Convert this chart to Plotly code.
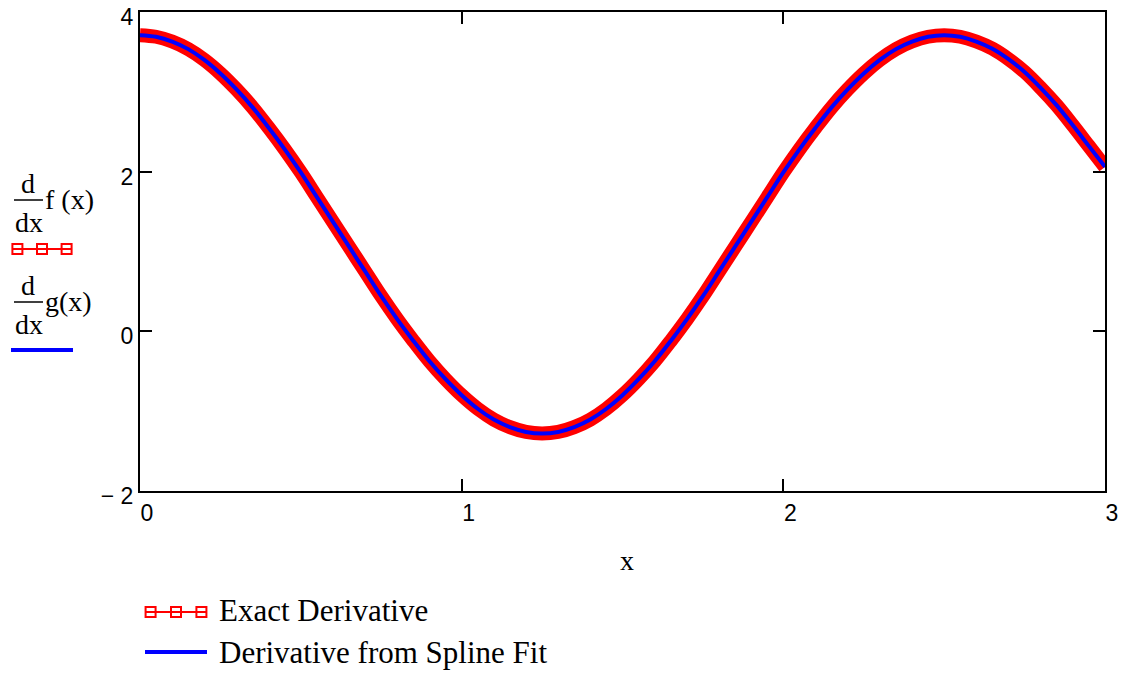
import plotly.graph_objects as go

# ── data ────────────────────────────────────────────────
X_VALS = [round(0.05 * i, 2) for i in range(61)]
EXACT = [3.71, 3.69, 3.63, 3.535, 3.40, 3.23, 3.03, 2.805, 2.55, 2.28,
         1.99, 1.68, 1.37, 1.06, 0.75, 0.44, 0.15, -0.12, -0.375, -0.60,
         -0.80, -0.97, -1.105, -1.20, -1.26, -1.28, -1.26, -1.20, -1.105, -0.97,
         -0.80, -0.60, -0.375, -0.12, 0.15, 0.44, 0.75, 1.06, 1.37, 1.68,
         1.99, 2.28, 2.55, 2.805, 3.03, 3.23, 3.40, 3.535, 3.63, 3.69,
         3.71, 3.69, 3.63, 3.54, 3.41, 3.25, 3.05, 2.83, 2.58, 2.32, 2.06]
SPLINE = EXACT[:]  # spline-fit derivative overlays the exact one
X_TICKS = [0, 1, 2, 3]
Y_TICKS = [-2, 0, 2, 4]
Y_TICK_TEXT = ["\u2212 2", "0", "2", "4"]
LEGEND_NAMES = ["Exact Derivative", "Derivative from Spline Fit"]

RED = "#FF0000"
BLUE = "#0000FF"
SERIF = "Times New Roman, Liberation Serif, serif"
SANS = "Arial, Liberation Sans, sans-serif"

W, H = 1123, 673
L, R, T, B = 140, 1105, 12, 491  # plot area in pixels


def px(xp, yp):
    """pixel position -> paper coordinates"""
    return (xp - L) / (R - L), (B - yp) / (B - T)


fig = go.Figure()
fig.add_trace(go.Scatter(x=X_VALS, y=EXACT, mode="lines", name=LEGEND_NAMES[0],
                         line=dict(color=RED, width=14, shape="spline"), showlegend=False))
fig.add_trace(go.Scatter(x=X_VALS, y=SPLINE, mode="lines", name=LEGEND_NAMES[1],
                         line=dict(color=BLUE, width=4, shape="spline"), showlegend=False))

shapes = []
annotations = []


def text(xp, yp, s, size, anchor="center", family=SERIF):
    x, y = px(xp, yp)
    annotations.append(dict(x=x, y=y, xref="paper", yref="paper", text=s, showarrow=False,
                            xanchor=anchor, yanchor="middle",
                            font=dict(family=family, size=size, color="black")))


def hline(x0, x1, yp, color, width):
    a0, b0 = px(x0, yp)
    a1, _ = px(x1, yp)
    shapes.append(dict(type="line", xref="paper", yref="paper", x0=a0, x1=a1, y0=b0, y1=b0,
                       line=dict(color=color, width=width)))


def square(xc, yc, s=10):
    a0, b0 = px(xc - s / 2, yc + s / 2)
    a1, b1 = px(xc + s / 2, yc - s / 2)
    shapes.append(dict(type="rect", xref="paper", yref="paper", x0=a0, x1=a1, y0=b0, y1=b1,
                       line=dict(color=RED, width=2), fillcolor="rgba(0,0,0,0)"))


def red_icon(x0, x1, yc):
    hline(x0, x1, yc, RED, 2)
    w = x1 - x0
    for f in (0.09, 0.5, 0.91):
        square(x0 + f * w, yc)


# y axis label block (Mathcad style)
text(28, 183, "d", 28)
hline(14, 43, 200, "black", 1.5)
text(29, 222, "dx", 28)
text(43, 199, "f (x)", 28, anchor="left")
red_icon(12, 72, 249)
text(28, 285, "d", 28)
hline(14, 43, 302, "black", 1.5)
text(29, 324, "dx", 28)
text(43, 301, "g(x)", 28, anchor="left")
hline(11, 73, 350, BLUE, 4)

# x axis title
text(627, 560, "x", 28)

# legend below the plot
red_icon(145, 207, 612)
text(217, 610, LEGEND_NAMES[0], 31, anchor="left")
hline(145, 207, 652, BLUE, 4)
text(217, 652, LEGEND_NAMES[1], 31, anchor="left")

fig.update_layout(
    width=W, height=H,
    margin=dict(l=L, r=W - R, t=T, b=H - B, pad=0),
    paper_bgcolor="white", plot_bgcolor="white",
    showlegend=False,
    shapes=shapes, annotations=annotations,
    font=dict(family=SANS, size=23, color="black"),
)
fig.update_xaxes(range=[0, 3], tickvals=X_TICKS, ticks="inside", ticklen=12, tickwidth=2,
                 tickcolor="black", showline=True, linecolor="black", linewidth=2, mirror="ticks",
                 showgrid=False, zeroline=False, automargin=False, ticklabelshift=7,
                 ticklabeloverflow="allow", tickfont=dict(family=SANS, size=23))
fig.update_yaxes(range=[-2, 4], tickvals=Y_TICKS, ticktext=Y_TICK_TEXT, ticks="inside", ticklen=12,
                 tickwidth=2, tickcolor="black", showline=True, linecolor="black", linewidth=2,
                 mirror="ticks", showgrid=False, zeroline=False, automargin=False, ticklabelshift=5,
                 ticklabeloverflow="allow", tickfont=dict(family=SANS, size=23))

fig.write_html("out.html", config={"displayModeBar": False},
               post_script="document.body.style.margin='0';")
